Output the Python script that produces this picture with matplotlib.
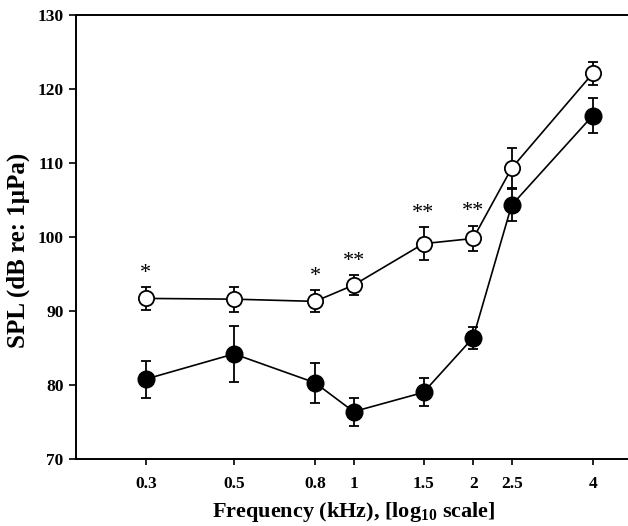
import matplotlib
matplotlib.use("Agg")
import matplotlib.pyplot as plt

plt.rcParams['font.family'] = ['Liberation Serif', 'DejaVu Serif']
plt.rcParams['mathtext.fontset'] = 'custom'
plt.rcParams['mathtext.rm'] = 'Liberation Serif:bold'
plt.rcParams['mathtext.default'] = 'rm'

freq = [0.3, 0.5, 0.8, 1.0, 1.5, 2.0, 2.5, 4.0]
tick_labels = ['0.3', '0.5', '0.8', '1', '1.5', '2', '2.5', '4']
open_mean = [91.7, 91.6, 91.3, 93.5, 99.1, 99.8, 109.3, 122.1]
open_err = [1.5, 1.7, 1.5, 1.3, 2.2, 1.7, 2.7, 1.5]
filled_mean = [80.8, 84.2, 80.3, 76.4, 79.0, 86.4, 104.3, 116.4]
filled_err = [2.5, 3.8, 2.7, 1.9, 1.9, 1.5, 2.2, 2.4]
sig = ['*', '', '*', '**', '**', '**', '', '']

fig = plt.figure(figsize=(6.28, 5.26), dpi=100)
ax = fig.add_axes([76/628, 67/526, 551/628, 444/526])

ax.errorbar(freq, filled_mean, yerr=filled_err, fmt='-o', color='black',
            mfc='black', mec='black', ms=12, lw=1.2, elinewidth=1.3,
            capsize=3.5, capthick=1.3, zorder=3)
ax.errorbar(freq, open_mean, yerr=open_err, fmt='-o', color='black',
            mfc='white', mec='black', ms=11, mew=1.3, lw=1.2, elinewidth=1.3,
            capsize=3.5, capthick=1.3, zorder=4)

for f, m, e, s in zip(freq, open_mean, open_err, sig):
    if s:
        ax.text(f, m + e + 0.6, s, ha='center', va='bottom', fontsize=16)

ax.set_xscale('log')
ax.set_xlim(0.2, 4.88)
ax.set_ylim(70, 130)
ax.set_xticks(freq)
ax.set_xticklabels(tick_labels)
ax.minorticks_off()
ax.set_yticks([70, 80, 90, 100, 110, 120, 130])
for lab in ax.get_xticklabels() + ax.get_yticklabels():
    lab.set_fontweight('bold')
    lab.set_fontsize(12.5)
ax.tick_params(axis='y', direction='out', length=5, width=1.2, pad=4)
ax.tick_params(axis='x', direction='out', length=4, width=1.2, pad=8)

ax.spines['right'].set_visible(False)
for sp in ['left', 'bottom', 'top']:
    ax.spines[sp].set_linewidth(1.4)

ax.set_ylabel('SPL (dB re: 1\u03bcPa)', fontsize=18, fontweight='bold')
ax.yaxis.set_label_coords(-0.083, 0.47)
ax.set_xlabel('Frequency (kHz), [log$_{10}$ scale]', fontsize=16, fontweight='bold')
ax.xaxis.set_label_coords(0.505, -0.092)

fig.savefig('out.png', dpi=100)
